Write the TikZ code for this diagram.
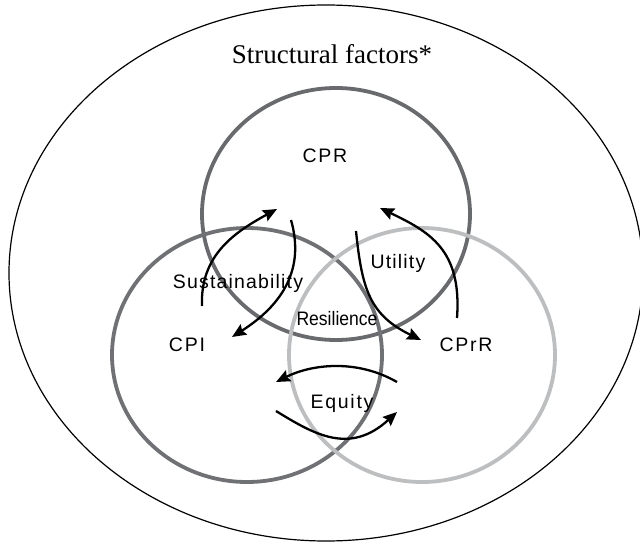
\documentclass[tikz,border=0pt]{standalone}
\usepackage{fontspec}
\usepackage{xcolor}
\setmainfont{Liberation Serif}
\newfontfamily\labelfont[LetterSpace=9]{Liberation Sans}
\usetikzlibrary{arrows.meta}
\definecolor{cprGray}{RGB}{105, 106, 110}
\definecolor{cpiGray}{RGB}{112, 113, 117}
\definecolor{cprrGray}{RGB}{188, 190, 192}

\tikzset{
  ring/.style={line width=3.8pt},
  lbl/.style={anchor=base, inner sep=0pt, font=\labelfont\fontsize{19.5}{22}\selectfont},
  flow/.style={line width=2.3pt, -{Stealth[length=14pt, width=12pt, inset=2pt]}}
}

\begin{document}
\begin{tikzpicture}[x=1pt, y=-1pt]
                \useasboundingbox (0,0) rectangle (640,545);

                % Outer boundary
                \draw[line width=1.2pt] (326,273) ellipse [x radius=317, y radius=268];
                \node[anchor=base, inner sep=0pt, font=\fontsize{27}{30}\selectfont] (struct) at (332,64) {Structural factors*};

                % Circles
                \draw[ring, cprGray] (336,214) ellipse [x radius=134, y radius=126];
                \draw[ring, cpiGray] (247,355) ellipse [x radius=135, y radius=127];
                \draw[ring, cprrGray] (422,355) ellipse [x radius=133, y radius=127];

                % Labels
                \node[lbl] (cpr) at (325,163) {CPR};
                \node[lbl] (cpi) at (187,352) {CPI};
                \node[lbl] (cprr) at (466,352) {CPrR};
                \node[lbl] (sust) at (238,289) {\addfontfeatures{LetterSpace=6}Sustainability};
                \node[lbl] (util) at (398,269) {\addfontfeatures{LetterSpace=6}Utility};
                \node[lbl] (resil) at (337,326) {\scalebox{0.9}[1]{\addfontfeatures{LetterSpace=0}Resilience}};
                \node[lbl] (equity) at (342,408) {Equity};

                % Arrow ends
                \coordinate (susA) at (202,306);
                \coordinate (susB) at (277,209);
                \coordinate (susC) at (291,220);
                \coordinate (susD) at (232,337);
                \coordinate (utlA) at (356,231);
                \coordinate (utlB) at (421,340);
                \coordinate (utlC) at (457,318);
                \coordinate (utlD) at (380,208);
                \coordinate (eqA) at (397,382);
                \coordinate (eqB) at (276,382);
                \coordinate (eqC) at (276,411);
                \coordinate (eqD) at (397,412);

                % Arrows
                \draw[flow] (susA) .. controls (200,255) and (235,232) .. (susB);
                \draw[flow] (susC) .. controls (303,262) and (290,300) .. (susD);
                \draw[flow] (utlA) .. controls (362,290) and (370,315) .. (utlB);
                \draw[flow] (utlC) .. controls (462,250) and (430,232) .. (utlD);
                \draw[flow] (eqA) .. controls (355,358) and (310,365) .. (eqB);
                \draw[flow] (eqC) .. controls (315,435) and (350,455) .. (eqD);
            \end{tikzpicture}
\end{document}
